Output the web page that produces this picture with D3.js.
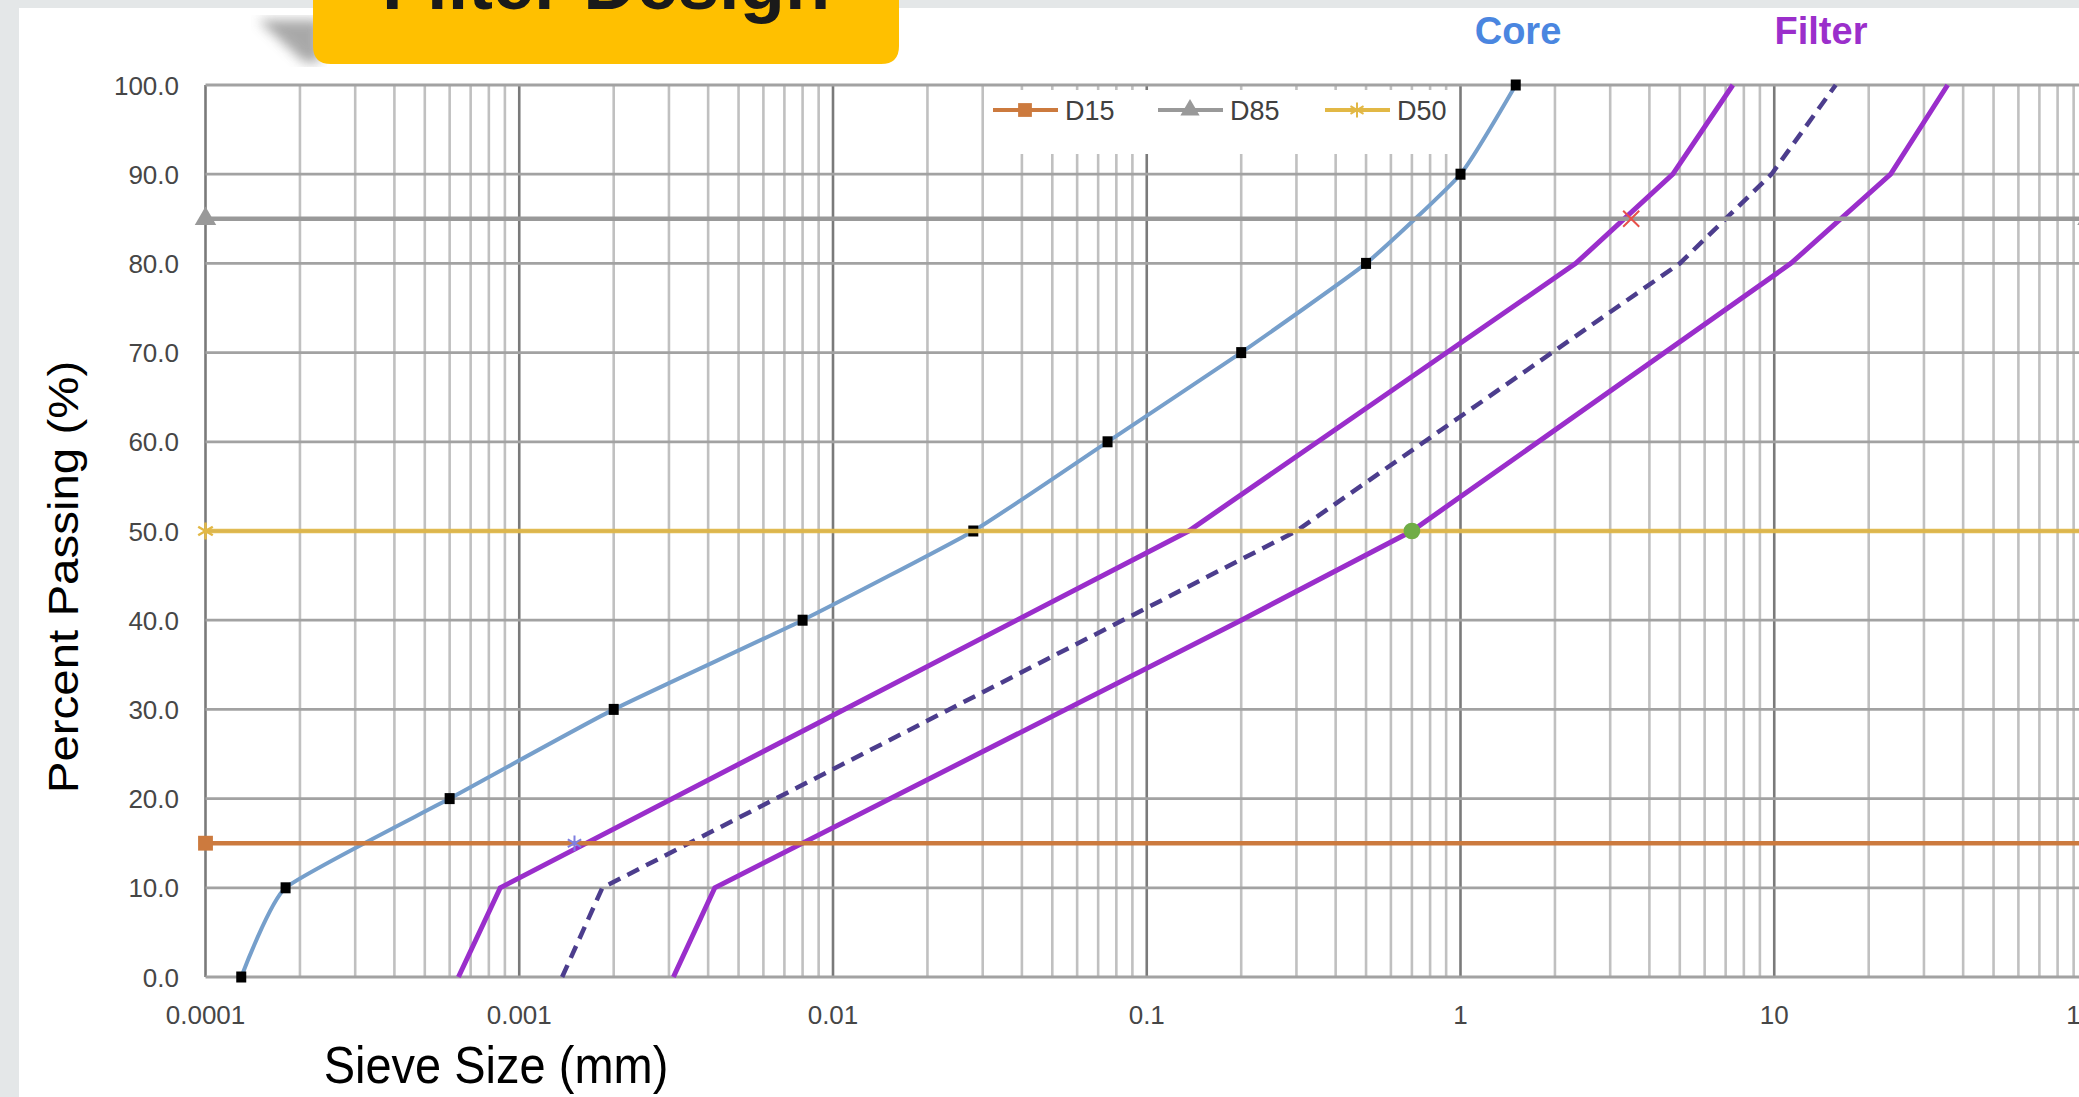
<!DOCTYPE html>
<html>
<head>
<meta charset="utf-8">
<script src="https://cdn.jsdelivr.net/npm/d3@7"></script>
<style>
  body { margin: 0; background: #e4e7e8; }
  svg { display: block; font-family: "Liberation Sans", Arial, sans-serif; }
</style>
</head>
<body>
<div id="my_dataviz"></div>
<script>
// gradation data: sieve size (mm) vs percent passing
const coreSize = [0.00013, 0.00018, 0.0006, 0.002, 0.008, 0.028, 0.075, 0.2, 0.5, 1.0, 1.5];
const corePass = [0, 10, 20, 30, 40, 50, 60, 70, 80, 90, 100];

const fineSize = [0.00064, 0.00087, 0.136, 2.33, 4.75, 7.38];
const finePass = [0, 10, 50, 80, 90, 100];

const midSize = [0.00137, 0.00184, 0.3, 5.0, 9.8, 15.7];
const midPass = [0, 10, 50, 80, 90, 100];

const coarseSize = [0.0031, 0.0042, 0.2, 0.7, 11.3, 23.5, 35.7];
const coarsePass = [0, 10, 40, 50, 80, 90, 100];

// horizontal reference lines
const refNames = ["D15", "D85", "D50"];
const refPass = [15, 85, 50];
const refSize = [0.0001, 100];

// marked points
const markSize = [0.0015, 3.5, 0.7];
const markPass = [15, 85, 50];

const xTickLabels = ["0.0001", "0.001", "0.01", "0.1", "1", "10", "100"];
const yTickLabels = ["0.0", "10.0", "20.0", "30.0", "40.0", "50.0", "60.0", "70.0", "80.0", "90.0", "100.0"];

const W = 2079, H = 1097;

const svg = d3.select("#my_dataviz")
    .append("svg")
    .attr("width", W)
    .attr("height", H);

// white panel
svg.append("rect").attr("x", 19).attr("y", 8).attr("width", W - 19).attr("height", H - 8).attr("fill", "#ffffff");

const x = d3.scaleLog().domain([0.0001, 100]).range([205.5, 2088]);
const y = d3.scaleLinear().domain([0, 100]).range([977, 85]);

const plot = svg.append("g");

// vertical grid
const vt = x.ticks();
plot.append("g")
    .selectAll("line")
    .data(vt)
    .join("line")
    .attr("x1", d => x(d)).attr("x2", d => x(d))
    .attr("y1", y(0)).attr("y2", y(100))
    .attr("stroke", d => Math.abs(Math.log10(d) - Math.round(Math.log10(d))) < 1e-9 ? "#7a7a7a" : "#c0c0c0")
    .attr("stroke-width", 2.6);

// horizontal grid
plot.append("g")
    .selectAll("line")
    .data(d3.range(0, 101, 10))
    .join("line")
    .attr("x1", x(0.0001)).attr("x2", x(100))
    .attr("y1", d => y(d)).attr("y2", d => y(d))
    .attr("stroke", "#a2a2a2")
    .attr("stroke-width", 2.8);

// legend background
svg.append("rect").attr("x", 986).attr("y", 90).attr("width", 472).attr("height", 64).attr("fill", "#fff");

// tick labels
svg.append("g")
    .selectAll("text")
    .data(xTickLabels)
    .join("text")
    .attr("x", d => x(+d))
    .attr("y", 1024)
    .attr("text-anchor", "middle")
    .attr("font-size", 26)
    .attr("fill", "#464646")
    .text(d => d);

svg.append("g")
    .selectAll("text")
    .data(yTickLabels)
    .join("text")
    .attr("x", 179)
    .attr("y", d => y(+d) + 9.5)
    .attr("text-anchor", "end")
    .attr("font-size", 26)
    .attr("fill", "#464646")
    .text(d => d);

// core curve
const core = d3.zip(coreSize, corePass);
const smooth = d3.line().x(d => x(d[0])).y(d => y(d[1])).curve(d3.curveCardinal.tension(0.55));
plot.append("path")
    .datum(core)
    .attr("fill", "none")
    .attr("stroke", "#769fcb")
    .attr("stroke-width", 4)
    .attr("d", smooth);

// filter envelope
const filterSeries = [
    {data: d3.zip(fineSize, finePass), color: "#9a2ecb", dash: null, w: 5},
    {data: d3.zip(midSize, midPass), color: "#4c3d8d", dash: "13,8", w: 4.5},
    {data: d3.zip(coarseSize, coarsePass), color: "#9a2ecb", dash: null, w: 5}
];
const flat = d3.line().x(d => x(d[0])).y(d => y(d[1]));
plot.selectAll(".filter")
    .data(filterSeries)
    .join("path")
    .attr("class", "filter")
    .attr("fill", "none")
    .attr("stroke", d => d.color)
    .attr("stroke-width", d => d.w)
    .attr("stroke-dasharray", d => d.dash)
    .attr("d", d => flat(d.data));

// core markers
plot.append("g")
    .selectAll("rect")
    .data(core)
    .join("rect")
    .attr("x", d => x(d[0]) - 5)
    .attr("y", d => y(d[1]) - 5.5)
    .attr("width", 10)
    .attr("height", 11)
    .attr("fill", "#000");

// reference lines
const refColors = ["#cc7a3e", "#999999", "#e2b845"];
const refShapes = [d3.symbolSquare, d3.symbolTriangle, d3.symbolAsterisk];
refNames.forEach((name, i) => {
    const pts = refSize.map(s => [s, refPass[i]]);
    plot.append("path")
        .datum(pts)
        .attr("fill", "none")
        .attr("stroke", refColors[i])
        .attr("stroke-width", 4.5)
        .attr("opacity", i === 2 ? 0.9 : 1)
        .attr("d", flat);
    plot.selectAll(".m" + i)
        .data(pts)
        .join("path")
        .attr("transform", d => `translate(${x(d[0])},${y(d[1])})`)
        .attr("d", d3.symbol().type(refShapes[i]).size(i === 0 ? 220 : 200))
        .attr("fill", refColors[i])
        .attr("stroke", i === 2 ? refColors[i] : "none")
        .attr("stroke-width", 2.5);
});

// marked intersection points
const markColors = ["#7f7fe0", "#e8504a", "#70ad47"];
const markShapes = [d3.symbolAsterisk, d3.symbolTimes, d3.symbolCircle];
plot.append("g")
    .selectAll("path")
    .data(d3.zip(markSize, markPass))
    .join("path")
    .attr("transform", d => `translate(${x(d[0])},${y(d[1])})`)
    .attr("d", (d, i) => d3.symbol().type(markShapes[i]).size(170)())
    .attr("fill", (d, i) => markColors[i])
    .attr("stroke", (d, i) => markColors[i])
    .attr("stroke-width", 2);

// legend
const legX = [993, 1158, 1325];
const leg = svg.append("g");
refNames.forEach((name, i) => {
    leg.append("line")
        .attr("x1", legX[i]).attr("x2", legX[i] + 65)
        .attr("y1", 110).attr("y2", 110)
        .attr("stroke", refColors[i]).attr("stroke-width", 4);
    leg.append("path")
        .attr("transform", `translate(${legX[i] + 32},110)`)
        .attr("d", d3.symbol().type(refShapes[i]).size(i === 0 ? 190 : 160))
        .attr("fill", refColors[i])
        .attr("stroke", i === 2 ? refColors[i] : "none")
        .attr("stroke-width", 2);
    leg.append("text")
        .attr("x", legX[i] + 72)
        .attr("y", 120)
        .attr("font-size", 27)
        .attr("fill", "#404040")
        .text(name);
});

// axis titles
svg.append("text")
    .attr("transform", "translate(496,1083) scale(1,1.1)")
    .attr("text-anchor", "middle")
    .attr("font-size", 47)
    .attr("fill", "#000")
    .text("Sieve Size (mm)");

svg.append("text")
    .attr("transform", "translate(78,577) scale(1,1.13) rotate(-90)")
    .attr("text-anchor", "middle")
    .attr("font-size", 42)
    .attr("fill", "#000")
    .text("Percent Passing (%)");

// curve labels
svg.append("text").attr("x", 1518).attr("y", 44).attr("text-anchor", "middle")
    .attr("font-size", 38).attr("font-weight", "bold").attr("fill", "#4a86e0").text("Core");
svg.append("text").attr("x", 1821).attr("y", 44).attr("text-anchor", "middle")
    .attr("font-size", 38).attr("font-weight", "bold").attr("fill", "#9b2fcb").text("Filter");

// title badge
const defs = svg.append("defs");
defs.append("filter").attr("id", "blur").append("feGaussianBlur").attr("stdDeviation", 6);
svg.append("polygon")
    .attr("points", "258,20 320,20 320,62 304,62")
    .attr("fill", "#8c8c8c")
    .attr("opacity", 0.75)
    .attr("filter", "url(#blur)");
svg.append("path")
    .attr("d", "M313,-30 H899 V46 Q899,64 881,64 H331 Q313,64 313,46 Z")
    .attr("fill", "#ffc000");
svg.append("text")
    .attr("x", 606).attr("y", 9)
    .attr("text-anchor", "middle")
    .attr("font-size", 74)
    .attr("font-weight", "bold")
    .attr("fill", "#1a1a1a")
    .text("Filter Design");
</script>
</body>
</html>
